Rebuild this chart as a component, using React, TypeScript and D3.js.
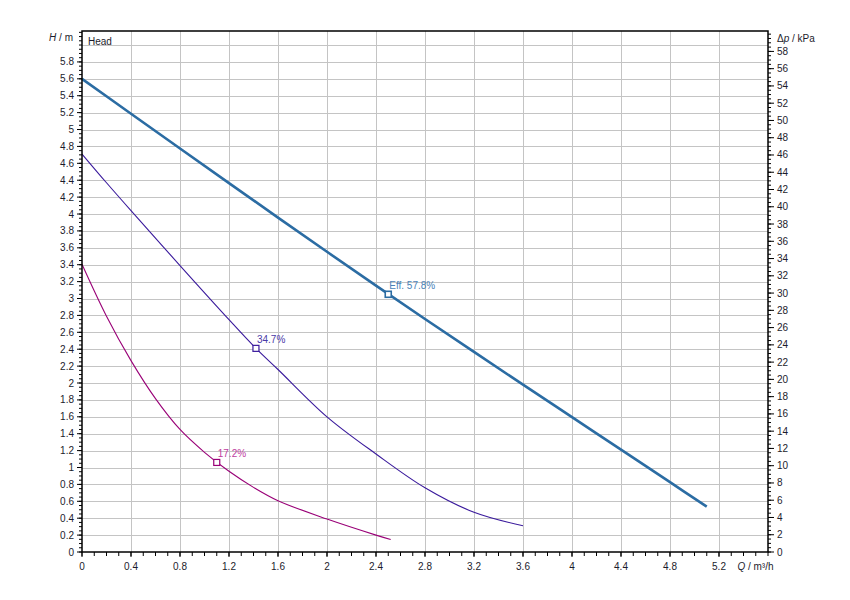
import React from "react";
import * as d3 from "d3";

const WIDTH = 850;
const HEIGHT = 600;
const MARGIN = { top: 31, right: 82, bottom: 48, left: 82 };
const Q_MAX = 5.6;
const H_MAX = 6.166;
const KPA_PER_M = 9.79;

// pump head curve
const headQ = [0, 0.4, 0.8, 1.2, 1.6, 2.0, 2.4, 2.8, 3.2, 3.6, 4.0, 4.4, 4.8, 5.1];
const headH = [5.6, 5.187, 4.776, 4.366, 3.958, 3.553, 3.153, 2.758, 2.368, 1.981, 1.596, 1.211, 0.826, 0.537];

// lower speed curves
const midQ = [0, 0.2, 0.4, 0.8, 1.2, 1.42, 1.6, 2.0, 2.4, 2.8, 3.2, 3.6];
const midH = [4.71, 4.37, 4.04, 3.39, 2.75, 2.41, 2.16, 1.6, 1.16, 0.76, 0.47, 0.31];

const lowQ = [0, 0.2, 0.4, 0.6, 0.8, 1.0, 1.2, 1.4, 1.6, 2.0, 2.4, 2.52];
const lowH = [3.405, 2.79, 2.265, 1.815, 1.45, 1.18, 0.955, 0.765, 0.607, 0.39, 0.2, 0.148];

// operating points
const pointNames = ["Eff.  57.8%", "34.7%", "17.2%"];
const pointQ = [2.5, 1.42, 1.1];
const pointH = [3.05, 2.41, 1.06];
const pointColors = ["#2b6ca3", "#3a1a9c", "#990077"];
const labelColors = ["#4a82b8", "#4a3aa8", "#c040a0"];

const xTicks = [0, 0.4, 0.8, 1.2, 1.6, 2, 2.4, 2.8, 3.2, 3.6, 4, 4.4, 4.8, 5.2];
const yTicks = d3.range(0, 5.81, 0.2).map((v) => Math.round(v * 10) / 10);
const kpaTicks = d3.range(0, 59, 2);

const FONT = "'Liberation Sans', Arial, sans-serif";
const TXT = "#1c1c2c";

export default function App() {
  const bw = WIDTH - MARGIN.left - MARGIN.right;
  const bh = HEIGHT - MARGIN.top - MARGIN.bottom;

  const x = d3.scaleLinear().domain([0, Q_MAX]).range([0, bw]);
  const y = d3.scaleLinear().domain([0, H_MAX]).range([bh, 0]);
  const yk = d3.scaleLinear().domain([0, H_MAX * KPA_PER_M]).range([bh, 0]);

  const line = d3
    .line<[number, number]>()
    .x((d) => x(d[0]))
    .y((d) => y(d[1]))
    .curve(d3.curveCatmullRom.alpha(0.5));

  const zip = (qs: number[], hs: number[]) => qs.map((q, i) => [q, hs[i]] as [number, number]);

  const hGrid = d3.range(0.2, H_MAX, 0.2);
  const vGrid = d3.range(0.4, Q_MAX, 0.4);
  const xMinor = d3.range(0, Q_MAX + 0.001, 0.1);
  const yMinor = d3.range(0, H_MAX, 0.05);
  const kMinor = d3.range(0, H_MAX * KPA_PER_M, 0.5);

  return (
    <svg width={WIDTH} height={HEIGHT} style={{ position: "absolute", left: 0, top: 0 }}>
      <rect width={WIDTH} height={HEIGHT} fill="#fff" />
      <g transform={`translate(${MARGIN.left},${MARGIN.top})`} fontFamily={FONT}>
        {hGrid.map((v, i) => (
          <line key={"h" + i} x1={0} x2={bw} y1={Math.round(y(v)) + 0.5} y2={Math.round(y(v)) + 0.5} stroke="#c4c4c4" />
        ))}
        {vGrid.map((v, i) => (
          <line key={"v" + i} y1={0} y2={bh} x1={Math.round(x(v)) + 0.5} x2={Math.round(x(v)) + 0.5} stroke="#c4c4c4" />
        ))}

        <path d={line(zip(lowQ, lowH)) || ""} fill="none" stroke={pointColors[2]} strokeWidth={1.1} />
        <path d={line(zip(midQ, midH)) || ""} fill="none" stroke={pointColors[1]} strokeWidth={1.1} />
        <path d={line(zip(headQ, headH)) || ""} fill="none" stroke={pointColors[0]} strokeWidth={2.6} />

        {pointQ.map((q, i) => (
          <g key={"p" + i}>
            <rect
              x={x(q) - 3}
              y={y(pointH[i]) - 3}
              width={6}
              height={6}
              fill="#fff"
              stroke={pointColors[i]}
              strokeWidth={i === 0 ? 1.6 : 1.2}
            />
            <text x={x(q) + 1} y={y(pointH[i]) - 5} fontSize={10} fill={labelColors[i]}>
              {pointNames[i]}
            </text>
          </g>
        ))}

        {/* frame */}
        <rect x={0} y={0} width={bw} height={bh} fill="none" stroke="#000" strokeWidth={1.5} />

        {/* left axis */}
        {yMinor.map((v, i) => (
          <line key={"ym" + i} x1={-3} x2={0} y1={y(v)} y2={y(v)} stroke="#000" />
        ))}
        {yTicks.map((v, i) => (
          <g key={"yt" + i}>
            <line x1={-5} x2={0} y1={y(v)} y2={y(v)} stroke="#000" />
            <text x={-8} y={y(v)} dy="0.35em" textAnchor="end" fontSize={10} fill={TXT}>
              {v}
            </text>
          </g>
        ))}
        <text x={-9} y={10} textAnchor="end" fontSize={10} fill={TXT}>
          <tspan fontStyle="italic">H</tspan> / m
        </text>
        <text x={6} y={14} fontSize={10} fill={TXT}>
          Head
        </text>

        {/* right axis */}
        {kMinor.map((v, i) => (
          <line key={"km" + i} x1={bw} x2={bw + 3} y1={yk(v)} y2={yk(v)} stroke="#000" />
        ))}
        {kpaTicks.map((v, i) => (
          <g key={"kt" + i}>
            <line x1={bw} x2={bw + 6} y1={yk(v)} y2={yk(v)} stroke="#000" />
            <text x={bw + 9} y={yk(v)} dy="0.35em" fontSize={10} fill={TXT}>
              {v}
            </text>
          </g>
        ))}
        <text x={bw + 9} y={11} fontSize={10} fill={TXT}>
          Δ<tspan fontStyle="italic">p</tspan> / kPa
        </text>

        {/* bottom axis */}
        {xMinor.map((v, i) => (
          <line key={"xm" + i} x1={x(v)} x2={x(v)} y1={bh} y2={bh + 4} stroke="#000" />
        ))}
        {xTicks.map((v, i) => (
          <g key={"xt" + i}>
            <line x1={x(v)} x2={x(v)} y1={bh} y2={bh + 5} stroke="#000" />
            <text x={x(v)} y={bh + 18} textAnchor="middle" fontSize={10} fill={TXT}>
              {v}
            </text>
          </g>
        ))}
        <text x={x(5.35)} y={bh + 18} fontSize={10} fill={TXT}>
          <tspan fontStyle="italic">Q</tspan> / m³/h
        </text>
      </g>
    </svg>
  );
}
